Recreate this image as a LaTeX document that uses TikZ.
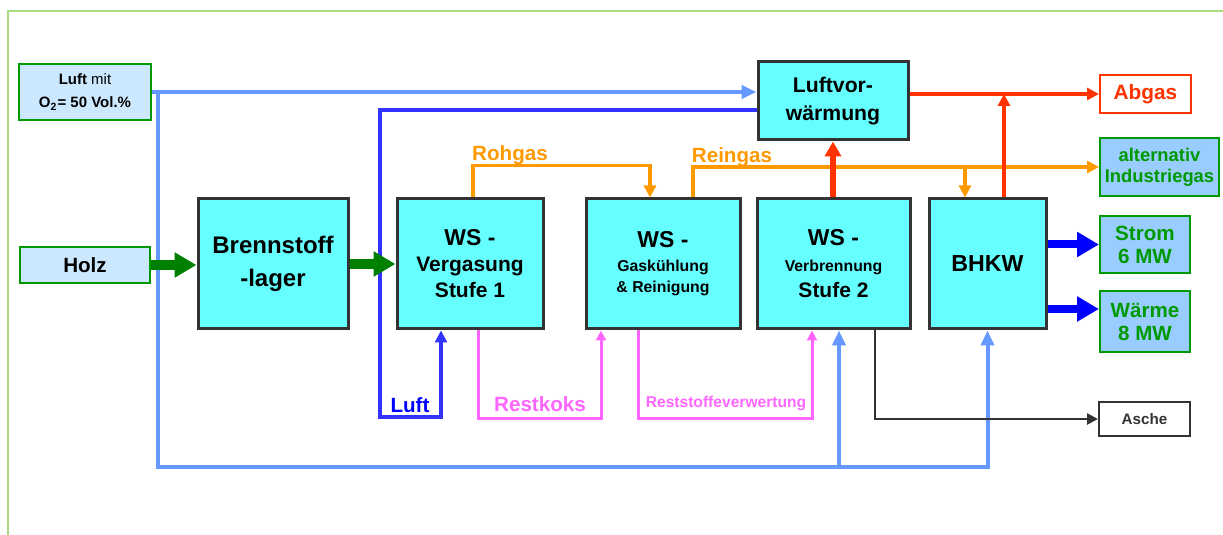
\documentclass[tikz,border=0pt]{standalone}
\usepackage{fontspec}
\setmainfont{Liberation Sans}
\usetikzlibrary{arrows.meta,calc}
\definecolor{prozess}{HTML}{66FFFF}
\definecolor{boxgrau}{HTML}{333333}
\definecolor{quellfarbe}{HTML}{CCE8FF}
\definecolor{zielfarbe}{HTML}{99CCFF}
\definecolor{gruenrand}{HTML}{009900}
\definecolor{abgasrot}{HTML}{FF3300}
\definecolor{hellblau}{HTML}{6699FF}
\definecolor{luftblau}{HTML}{3333FF}
\definecolor{gasorange}{HTML}{FF9900}
\definecolor{restpink}{HTML}{FF66FF}
\definecolor{strblau}{HTML}{0000FF}
\definecolor{holzgruen}{HTML}{008000}
\definecolor{rahmengruen}{HTML}{A8DC80}
\begin{document}
\begin{tikzpicture}[x=0.5pt,y=-0.5pt]

    \tikzset{
      proc/.style={
        draw={boxgrau},
        line width=1.5pt,
        fill={prozess},
        inner sep=0pt,
        align=center,
        font=\bfseries\fontsize{10.5}{13}\selectfont,
      },
      quelle/.style={draw={gruenrand},line width=1pt,fill={quellfarbe},inner sep=0pt,align=center},
      ziel/.style={draw={gruenrand},line width=1pt,fill={zielfarbe},text={gruenrand},inner sep=0pt,align=center,
        font=\bfseries\fontsize{10.3}{11.5}\selectfont},
      lbl/.style={inner sep=0pt,font=\bfseries\fontsize{10.3}{12}\selectfont},
      lb/.style={draw={hellblau},line width=2pt,-{Triangle[length=7.5pt,width=6.5pt]}},
      luftl/.style={draw={luftblau},line width=1.6pt,-{Triangle[length=6pt,width=6pt]}},
      rest/.style={draw={restpink},line width=1.5pt,-{Triangle[length=5pt,width=5pt]}},
      gas/.style={draw={gasorange},line width=1.6pt,-{Triangle[length=6pt,width=6pt]}},
      rot/.style={draw={abgasrot},line width=2pt,-{Triangle[length=6pt,width=6pt]}},
      fett/.style={line width=#1pt,-{Triangle[length=11pt,width=12pt]}},
    }
    \useasboundingbox (0,0) rectangle (1223,535);
    \draw[color={rahmengruen},line width=1pt] (1223,11) -- (8,11) -- (8,535);

    \node[quelle,minimum width=66pt,minimum height=28pt,font=\fontsize{7.5}{11.5}\selectfont] (luftmit) at (85,92) {\textbf{Luft} mit\\\textbf{O\textsubscript{2}= 50 Vol.\%}};
    \node[quelle,minimum width=65pt,minimum height=18pt,font=\bfseries\fontsize{10.3}{12}\selectfont] (holz) at (85,265) {Holz};
    \node[proc,minimum width=75pt,minimum height=65pt,font=\bfseries\fontsize{12}{16.5}\selectfont] (lager) at (273,264) {Brennstoff\\-lager};
    \node[proc,minimum width=73pt,minimum height=65pt] (vergasung) at (470,264) {{\fontsize{11.5}{13}\selectfont WS -}\\Vergasung\\Stufe 1};
    \node[proc,minimum width=77pt,minimum height=65pt,font=\bfseries\fontsize{7.9}{10.5}\selectfont] (kuehlung) at (663,264) {{\fontsize{11.5}{13}\selectfont WS -}\\[1.5pt]Gaskühlung\\\& Reinigung};
    \node[proc,minimum width=76.5pt,minimum height=65pt] (verbrennung) at (833.5,264) {{\fontsize{11.5}{13}\selectfont WS -}\\{\fontsize{7.9}{10}\selectfont Verbrennung}\\Stufe 2};
    \node[proc,minimum width=58.5pt,minimum height=65pt,font=\bfseries\fontsize{11.6}{13}\selectfont] (bhkw) at (987.5,264) {BHKW};
    \node[proc,minimum width=75pt,minimum height=39pt,font=\bfseries\fontsize{10.6}{14}\selectfont] (luftvor) at (833,101) {Luftvor-\\wärmung};
    \node[draw={abgasrot},line width=1pt,fill=white,text={abgasrot},inner sep=0pt,minimum width=45.5pt,minimum height=19pt,
      font=\bfseries\fontsize{10.4}{12}\selectfont] (abgas) at (1145.5,94) {Abgas};
    \node[ziel,minimum width=59.5pt,minimum height=29pt,font=\bfseries\fontsize{9.2}{10.5}\selectfont] (industriegas) at (1159.5,167) {alternativ\\Industriegas};
    \node[ziel,minimum width=45pt,minimum height=28.5pt] (strom) at (1145,244.5) {Strom\\6 MW};
    \node[ziel,minimum width=45pt,minimum height=30.5pt] (waerme) at (1145,321.5) {Wärme\\8 MW};
    \node[draw={boxgrau},line width=1pt,fill=white,text={boxgrau},inner sep=0pt,minimum width=45.5pt,minimum height=17pt,
      font=\bfseries\fontsize{7.6}{9}\selectfont] (asche) at (1144.5,419) {Asche};

    \node[lbl,text={gasorange}] (rohgas) at (510,155) {Rohgas};
    \node[lbl,text={gasorange}] (reingas) at (732,157) {Reingas};
    \node[lbl,text={strblau}] (luft) at (410,405) {Luft};
    \node[lbl,text={restpink}] (restkoks) at (540,404) {Restkoks};
    \node[lbl,text={restpink},font=\bfseries\fontsize{7.8}{9}\selectfont] (reststoffe) at (726,404) {Reststoffeverwertung};

    \coordinate (lbtee) at (158,92);
    \coordinate (lbbot) at (158,467);
    \coordinate (luftknick) at (380,417);
    \coordinate (vbzu) at ($(verbrennung.south)+(5.5,0)$);
    \coordinate (bhzu) at ($(bhkw.north)+(-22.5,0)$);
    \coordinate (bhab) at ($(bhkw.north)+(16.5,0)$);

	\draw[lb] (luftmit.east) -- (luftmit.east -| luftvor.west);
	\draw[lb] (lbtee) -- (lbbot) -| (bhkw.south);
	\draw[lb] (vbzu |- lbbot) -- (vbzu);
	\draw[luftl] ($(luftvor.west)+(0,9)$) -| (luftknick) -| ($(vergasung.south)+(-29,0)$);
	\draw[rest] ($(vergasung.south)+(8,0)$) |- ($(kuehlung.south)+(-62,88)$) -- ($(kuehlung.south)+(-62,0)$);
	\draw[rest] ($(kuehlung.south)+(-25,0)$) |- ($(verbrennung.south)+(-21.5,88)$) -- ($(verbrennung.south)+(-21.5,0)$);
	\draw[color={boxgrau},line width=1.4pt,-{Triangle[length=5.5pt,width=5.5pt]}] ($(verbrennung.south)+(41.5,0)$) |- (asche.west);
	\draw[gas] ($(vergasung.north)+(3,0)$) |- ($(kuehlung.north)+(-13,-32)$) -- ($(kuehlung.north)+(-13,0)$);
	\draw[gas] ($(kuehlung.north)+(30,0)$) |- (industriegas.west);
	\draw[gas] (bhzu |- industriegas.west) -- (bhzu);
	\draw[rot] (luftvor.east |- abgas.west) -- (abgas.west);
	\draw[rot,line width=3pt,-{Triangle[length=7.5pt,width=8pt]}] (verbrennung.north -| luftvor.south) -- (luftvor.south);
	\draw[rot] (bhab) -- (bhab |- abgas.west);
	\draw[color={strblau},fett=4] (bhkw.east |- strom.west) -- (strom.west);
	\draw[color={strblau},fett=4] ($(bhkw.east)+(0,45)$) -- ($(waerme.west)+(0,-12.5)$);
	\draw[color={holzgruen},fett=5] (holz.east) -- (holz.east -| lager.west);
	\draw[color={holzgruen},fett=5] (lager.east) -- (vergasung.west);

\end{tikzpicture}
\end{document}
